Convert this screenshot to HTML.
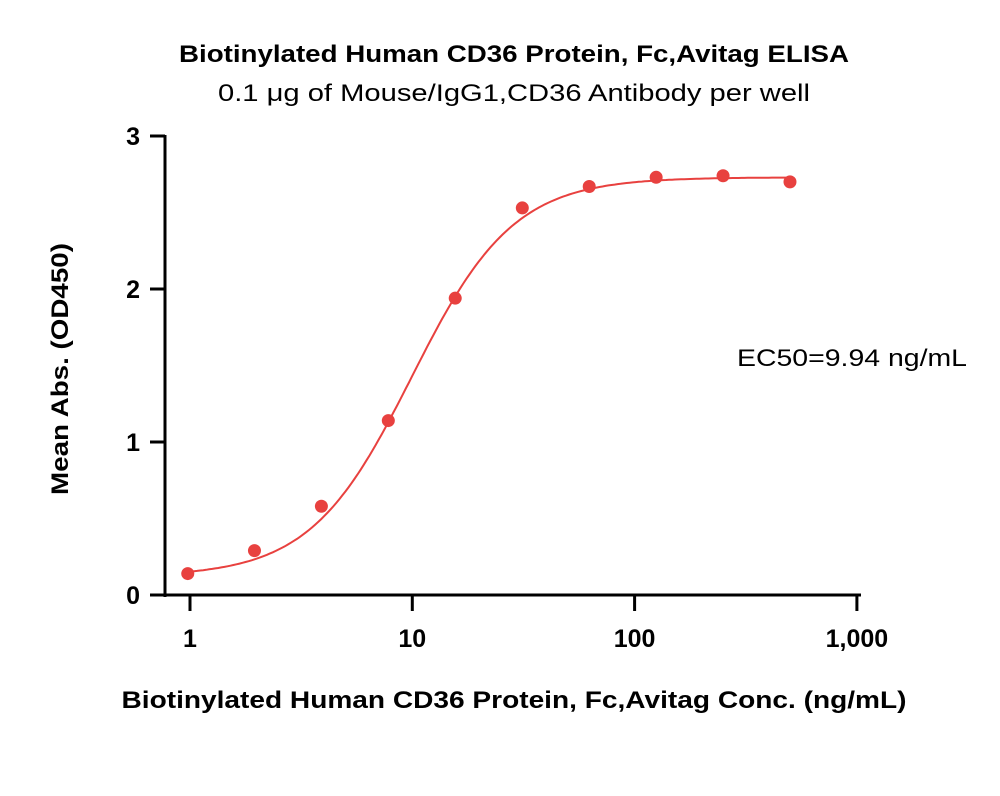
<!DOCTYPE html>
<html><head><meta charset="utf-8"><style>
body{margin:0;background:#fff;}
svg text{font-family:"Liberation Sans",sans-serif;}
</style></head><body>
<svg width="1000" height="791" viewBox="0 0 1000 791">
<text x="514" y="62" text-anchor="middle" font-size="24" font-weight="bold" textLength="670" lengthAdjust="spacingAndGlyphs">Biotinylated Human CD36 Protein, Fc,Avitag ELISA</text>
<text x="514" y="101" text-anchor="middle" font-size="24" textLength="592" lengthAdjust="spacingAndGlyphs">0.1 μg of Mouse/IgG1,CD36 Antibody per well</text>
<g id="axes"></g>
<g id="marks"></g>
<text x="852" y="366" text-anchor="middle" font-size="24" textLength="230" lengthAdjust="spacingAndGlyphs">EC50=9.94 ng/mL</text>
<text x="514" y="708" text-anchor="middle" font-size="24" font-weight="bold" textLength="785" lengthAdjust="spacingAndGlyphs">Biotinylated Human CD36 Protein, Fc,Avitag Conc. (ng/mL)</text>
<text transform="translate(68,369) rotate(-90)" text-anchor="middle" font-size="24" font-weight="bold" textLength="252" lengthAdjust="spacingAndGlyphs">Mean Abs. (OD450)</text>
</svg>
<script>
const conc=[0.977,1.95,3.9,7.8,15.6,31.25,62.5,125,250,500];
const od=[0.14,0.29,0.58,1.14,1.94,2.53,2.67,2.73,2.74,2.70];
const xTicks=[1,10,100,1000];
const xTickLabels=["1","10","100","1,000"];
const yTicks=[0,1,2,3];
const fitBottom=0.12, fitTop=2.73, fitEC50=9.94, fitHill=1.9;
const NS="http://www.w3.org/2000/svg";
function X(v){return 190+(Math.log10(v))*222.3;}
function Y(v){return 595-v*153;}
function mk(p,t,a){const e=document.createElementNS(NS,t);for(const k in a)e.setAttribute(k,a[k]);p.appendChild(e);return e;}
const ax=document.getElementById('axes'),mg=document.getElementById('marks');
let l=mk(ax,'line',{x1:165,y1:Y(3)-1,x2:165,y2:597,stroke:'#000','stroke-width':3});

l=mk(ax,'line',{x1:163,y1:595,x2:861,y2:595,stroke:'#000','stroke-width':3});

xTicks.forEach((t,i)=>{
 const tk=mk(ax,'line',{x1:X(t),y1:596,x2:X(t),y2:611,stroke:'#000','stroke-width':3});
 
 const tx=mk(ax,'text',{x:X(t),y:647,'text-anchor':'middle','font-size':25,'font-weight':'bold'});
 tx.textContent=xTickLabels[i];
 
});
yTicks.forEach(t=>{
 const tk=mk(ax,'line',{x1:150,y1:Y(t),x2:165,y2:Y(t),stroke:'#000','stroke-width':3});
 
 const tx=mk(ax,'text',{x:140,y:Y(t)+9,'text-anchor':'end','font-size':25,'font-weight':'bold'});
 tx.textContent=String(t);
 
});
let d='';
for(let i=0;i<=200;i++){const lv=Math.log10(0.95)+i/200*(Math.log10(500)-Math.log10(0.95));const v=Math.pow(10,lv);
 const y=fitBottom+(fitTop-fitBottom)/(1+Math.pow(fitEC50/v,fitHill));d+=(i?'L':'M')+X(v).toFixed(1)+','+Y(y).toFixed(1);}
const c=mk(mg,'path',{d:d,fill:'none',stroke:'#e8413f','stroke-width':2});

conc.forEach((v,i)=>{const p=mk(mg,'circle',{cx:X(v),cy:Y(od[i]),r:6.5,fill:'#e8413f'});
 });
</script>
</body></html>
